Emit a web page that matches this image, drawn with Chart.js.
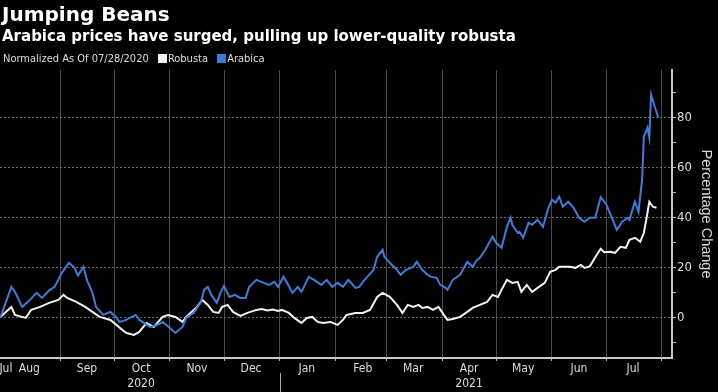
<!DOCTYPE html>
<html>
<head>
<meta charset="utf-8">
<script src="https://cdn.jsdelivr.net/npm/chart.js@4.4.1/dist/chart.umd.min.js"></script>
<style>
  html, body { margin: 0; padding: 0; background: #000; }
  #wrap { position: relative; width: 718px; height: 392px; overflow: hidden; background: #000; }
  #chart { position: absolute; left: 0; top: 0; }
  .hdr { position: absolute; left: 2px; color: #fff; white-space: nowrap; font-family: 'DejaVu Sans', sans-serif; font-weight: bold; }
  #title { top: 2px; font-size: 20px; }
  #sub { top: 27px; font-size: 15px; }
  #legend { position: absolute; left: 3px; top: 52px; color: #ddd; font: 11px 'Liberation Sans Narrow', 'DejaVu Sans Condensed', 'Liberation Sans', sans-serif; white-space: nowrap; }
  #legend .sw { display: inline-block; width: 9px; height: 9px; margin: 0 1px 0 6px; vertical-align: -1px; }
</style>
</head>
<body>
<div id="wrap">
  <canvas id="chart" width="718" height="392"></canvas>
  <div class="hdr" id="title">Jumping Beans</div>
  <div class="hdr" id="sub">Arabica prices have surged, pulling up lower-quality robusta</div>
  <div id="legend">Normalized As Of 07/28/2020 <span class="sw" style="background:#f2f2f2"></span>Robusta <span class="sw" style="background:#3b7dd8"></span>Arabica</div>
</div>
<script>
// days counted from 07/28/2020
const arabicaDays = [0, 2, 8, 10, 14, 18, 22, 25, 29, 32, 36, 40, 43, 45, 48, 50, 53, 55, 59, 63, 66, 68, 71, 77, 79, 85, 89, 92, 96, 99,
  103, 105, 109, 113, 115, 117, 119, 122, 124, 126, 129, 132, 135, 138, 140, 144, 148, 151, 154, 156, 159, 161, 164, 167, 169, 173, 176, 180, 183, 186,
  189, 192, 195, 199, 201, 204, 209, 211, 214, 215, 218, 222, 224, 227, 231, 233, 236, 239, 241, 244, 246, 249, 250, 253, 257, 261, 264, 266, 268, 271,
  275, 277, 280, 283, 285, 286, 289, 290, 292, 295, 297, 300, 303, 306, 308, 310, 312, 314, 317, 320, 323, 326, 329, 332, 335, 338, 341, 344, 347, 350,
  351, 354, 356, 358, 359, 361, 362, 363, 365, 367];
const arabicaValues = [0, 0.4, 12.4, 10.4, 4.4, 7, 10, 8, 11, 12.4, 18, 22, 20, 17, 20.4, 15, 10, 4.4, 1.2, 2.4, 0.4, -1.6, -1, 1.2, -0.8, -3.6, -2.8, -1.6, -4, -6,
  -3.6, 0, 2, 6, 11.2, 12.4, 9.2, 6, 10, 12.8, 8.4, 9.2, 8, 8, 12.4, 15.2, 14, 13.2, 14.4, 12.4, 16.4, 14, 10, 12.4, 10.4, 16.4, 15.2, 13.2, 15.2, 12.4,
  14, 12.4, 15.2, 12, 12.4, 15.2, 19.2, 24.4, 27.2, 24.4, 22, 19.2, 17.2, 19.2, 20.4, 22.4, 19.2, 17.2, 16.4, 16, 13.2, 12, 11.2, 15.2, 17.2, 22.4, 20.4, 22.8, 24, 27.2,
  32.4, 30, 28, 36.4, 40, 37.2, 34, 34.4, 32, 38, 37.2, 39.2, 36.4, 44, 47.2, 46, 48.4, 44.4, 46.4, 44, 40, 38.4, 40, 40, 48.2, 45.5, 40.4, 35.2, 38.4, 40,
  39.2, 46.4, 42.4, 55.2, 72.4, 76, 72, 89.2, 84.4, 80];

const robustaDays = [0, 2, 8, 10, 16, 19, 24, 29, 34, 37, 39, 44, 49, 53, 57, 63, 68, 71, 72, 76, 79, 83, 87, 89, 92, 95, 99, 103, 105, 108,
  111, 114, 117, 120, 123, 125, 128, 131, 135, 139, 144, 147, 150, 153, 156, 158, 162, 165, 169, 172, 175, 178, 181, 185, 189, 192, 194, 199, 203, 207,
  211, 214, 218, 222, 225, 228, 231, 234, 236, 239, 242, 245, 248, 250, 253, 257, 261, 264, 268, 272, 275, 278, 280, 283, 286, 289, 291, 294, 297, 300,
  304, 307, 310, 312, 315, 318, 321, 324, 326, 329, 332, 335, 337, 340, 343, 346, 349, 351, 354, 357, 359, 361, 362, 364, 366];
const robustaValues = [0, 0.4, 4.4, 1.2, 0, 3.2, 4.4, 6, 7.2, 9.2, 8, 6.4, 4.4, 2.4, 0.4, -0.8, -3.8, -5.6, -6, -6.8, -5.6, -2, -3.6, -2, 0.4, 1.2, 0.4, -1.6, 0.4, 2.4,
  4.4, 7.2, 5.2, 2.4, 2, 4.4, 5.2, 2.4, 0.8, 2, 3.2, 3.6, 3, 3.4, 2.8, 3.2, 2, 0, -2, 0, 0.4, -1.6, -2, -1.6, -2.8, -0.8, 1.2, 2, 2, 3.2,
  8.4, 10, 8.4, 5.2, 2, 5.2, 4.4, 5.2, 4, 4.4, 3.2, 4.4, 1.2, -0.8, -0.4, 0.4, 2.4, 4, 5.2, 6.4, 9.2, 8.4, 11.2, 15.2, 14, 14.4, 10.4, 13.2, 10.4, 12,
  14, 18.4, 19.2, 20.4, 20.4, 20.4, 20, 21.2, 20, 20.6, 24.2, 27.6, 26.2, 26.4, 26, 28.4, 28, 31.2, 32, 30.4, 34, 42, 46.4, 44.4, 44];

// month starts (grid lines) and month label positions
const monthStarts = [35, 65, 96, 126, 157, 188, 216, 247, 277, 308, 338, 369];
const labelDays = [5, 18, 50, 80, 111, 141, 172, 203, 231, 262, 292, 323, 353];
const monthLabels = ['Jul', 'Aug', 'Sep', ['Oct', '2020'], 'Nov', 'Dec', 'Jan', 'Feb', 'Mar', ['Apr', '2021'], 'May', 'Jun', 'Jul'];
const yearStart = 157;
const yTicks = [-10, 0, 10, 20, 30, 40, 50, 60, 70, 80, 90];
const yLabelled = [0, 20, 40, 60, 80];

const narrow = "'Liberation Sans Narrow', 'DejaVu Sans Condensed', 'Liberation Sans', sans-serif";

function toPoints(days, values) {
  return days.map((d, i) => ({ x: d, y: values[i] }));
}

const yearDivider = {
  id: 'yearDivider',
  afterDraw(chart) {
    const ctx = chart.ctx;
    const x = Math.round(chart.scales.x.getPixelForValue(yearStart)) + 0.5;
    ctx.save();
    ctx.strokeStyle = '#aaa';
    ctx.lineWidth = 1;
    ctx.beginPath();
    ctx.moveTo(x, chart.chartArea.bottom + 15);
    ctx.lineTo(x, 392);
    ctx.stroke();
    ctx.restore();
  }
};

const ctx = document.getElementById('chart').getContext('2d');
const beansChart = new Chart(ctx, {
  type: 'line',
  data: {
    datasets: [
      {
        label: 'Arabica',
        data: toPoints(arabicaDays, arabicaValues),
        borderColor: '#3b7dd8',
        borderWidth: 2,
        pointRadius: 0,
        tension: 0,
      },
      {
        label: 'Robusta',
        data: toPoints(robustaDays, robustaValues),
        borderColor: '#f2f2f2',
        borderWidth: 2,
        pointRadius: 0,
        tension: 0,
      },
    ],
  },
  options: {
    responsive: false,
    animation: false,
    layout: { padding: { top: 70, left: 0, right: 0, bottom: 0 } },
    scales: {
      x: {
        type: 'linear',
        min: 1.7,
        max: 374.6,
        afterBuildTicks: (axis) => {
          axis.ticks = monthStarts.concat(labelDays).sort((a, b) => a - b).map(v => ({ value: v }));
        },
        afterFit: (axis) => {
          axis.height = 34;
          axis.paddingLeft = 0;
          axis.paddingRight = 0;
        },
        ticks: {
          autoSkip: false,
          maxRotation: 0,
          padding: 0,
          color: '#ddd',
          font: { family: narrow, size: 12, lineHeight: 1.25 },
          callback: (value) => {
            const i = labelDays.indexOf(value);
            return i >= 0 ? monthLabels[i] : '';
          },
        },
        grid: {
          color: (c) => monthStarts.includes(c.tick && c.tick.value) ? '#4a4a4a' : 'transparent',
          tickColor: (c) => monthStarts.includes(c.tick && c.tick.value) ? '#bbb' : 'transparent',
          tickLength: 3,
          lineWidth: 1,
        },
        border: { display: true, color: '#c8c8c8', width: 2 },
      },
      y: {
        position: 'right',
        min: -16,
        max: 99,
        afterBuildTicks: (axis) => {
          axis.ticks = yTicks.map(v => ({ value: v }));
        },
        afterFit: (axis) => {
          axis.width = 46;
        },
        ticks: {
          padding: 1,
          color: '#ddd',
          font: { family: narrow, size: 13 },
          callback: (value) => yLabelled.includes(value) ? value : '',
        },
        grid: {
          color: (c) => yLabelled.includes(c.tick && c.tick.value) ? '#6a6a6a' : 'transparent',
          tickColor: '#bbb',
          tickLength: 4,
          tickBorderDash: [],
        },
        border: { display: true, color: '#c8c8c8', width: 2, dash: [2, 2] },
        title: {
          display: true,
          text: 'Percentage Change',
          color: '#d8d8d8',
          font: { family: "'Liberation Sans', sans-serif", size: 14.5 },
          padding: { top: 3, bottom: 0 },
        },
      },
    },
    plugins: {
      legend: { display: false },
      tooltip: { enabled: false },
    },
  },
  plugins: [yearDivider],
});
</script>
</body>
</html>
